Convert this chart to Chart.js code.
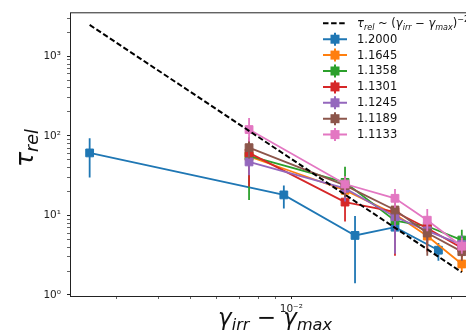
<!DOCTYPE html>
<html>
<head>
<meta charset="utf-8">
<script src="https://cdn.jsdelivr.net/npm/chart.js@4.4.1/dist/chart.umd.min.js"></script>
<style>
    html, body { margin: 0; padding: 0; background: #fff; overflow: hidden; }
    #wrap { width: 466px; height: 335px; overflow: hidden; position: relative; }
    canvas { display: block; }
</style>
</head>
<body>
<div id="wrap"><canvas id="chart" width="488" height="335" style="width:488px;height:335px"></canvas></div>
<script>
/* ------------------------------------------------------------
   DATA
------------------------------------------------------------ */
const gammaLabels = ["1.2000", "1.1645", "1.1358", "1.1301", "1.1245", "1.1189", "1.1133"];
const colors = ["#1f77b4", "#ff7f0e", "#2ca02c", "#d62728", "#9467bd", "#8c564b", "#e377c2"];

// x = gamma_irr - gamma_max
const xBlue = [0.0025, 0.0095, 0.0155, 0.0204, 0.0275];
const xOthers = [0.00748, 0.01447, 0.0204, 0.02547, 0.0323];

// tau_rel values, with lower / upper error bar ends
const tau12000 = [61, 18.1, 5.6, 7.1, 3.65];
const lo12000  = [30, 12.2, 1.4, 5.3, 2.7];
const hi12000  = [93, 23.7, 9.8, 9.2, 4.5];

const tau11645 = [55, 20.7, 10.3, 5.5, 2.45];
const lo11645  = [42, 16, 8.2, 4.3, 1.95];
const hi11645  = [70, 26, 12.8, 7, 3.1];

const tau11358 = [56, 26, 8.6, 7.3, 4.9];
const lo11358  = [15.6, 17, 6.3, 5.5, 3.7];
const hi11358  = [88, 41, 11.5, 9.5, 6.6];

const tau11301 = [61, 14.7, 11.1, 6.9, 3.9];
const lo11301  = [23, 8.4, 3.1, 3.5, 3.0];
const hi11301  = [95, 20, 14.5, 9, 5.1];

const tau11245 = [47, 21.9, 9.6, 6.4, 4.3];
const lo11245  = [32, 15, 3.3, 4.6, 3.2];
const hi11245  = [65, 29, 15, 8.5, 5.6];

const tau11189 = [71, 23.8, 11.7, 6.0, 3.5];
const lo11189  = [52, 17, 8.5, 3.1, 2.7];
const hi11189  = [95, 31, 15, 8.3, 4.5];

const tau11133 = [120, 24.8, 16.4, 8.7, 4.1];
const lo11133  = [85, 19, 12.5, 6.3, 3.3];
const hi11133  = [168, 31, 21.5, 12, 5.2];

// dashed power-law guide (end points)
const fitX = [0.0025, 0.0323];
const fitY = [2480, 1.93];

// axis ticks
const xMajorTicks = [0.001, 0.01];
const yMajorTicks = [1, 10, 100, 1000];
const minorMult = [1, 2, 3, 4, 5, 6, 7, 8, 9];
const X_MIN = 0.002184, X_MAX = 0.0366;
const Y_MIN = 0.97, Y_MAX = 3573;

const SERIES = [
    [xBlue, tau12000, lo12000, hi12000],
    [xOthers, tau11645, lo11645, hi11645],
    [xOthers, tau11358, lo11358, hi11358],
    [xOthers, tau11301, lo11301, hi11301],
    [xOthers, tau11245, lo11245, hi11245],
    [xOthers, tau11189, lo11189, hi11189],
    [xOthers, tau11133, lo11133, hi11133]
];

const FONT = "'DejaVu Sans', 'Liberation Sans', sans-serif";
const INK = "#222";

/* ------------------------------------------------------------
   HELPERS
------------------------------------------------------------ */
function isPow10(v) {
    const l = Math.log10(v);
    return Math.abs(l - Math.round(l)) < 1e-9;
}

function buildTicks(majors, lo, hi) {
    const out = [];
    majors.forEach(d => minorMult.forEach(m => {
        const v = +(d * m).toPrecision(6);
        if (v >= lo && v <= hi) out.push(v);
    }));
    return out.map(v => ({ value: v, major: isPow10(v) }));
}

const SUP = { "0": "⁰", "1": "¹", "2": "²", "3": "³", "-": "⁻" };
function powLabel(v) {
    const e = String(Math.round(Math.log10(v)));
    return "10" + e.split("").map(c => SUP[c]).join("");
}

// draw mathtext-ish pieces: [text, kind] kind: n / i / sub / sup
function drawRich(ctx, parts, x, y, size, align) {
    const small = size * 0.7;
    const fontOf = k => k === "n" ? `${size}px ${FONT}`
        : k === "i" ? `italic ${size}px ${FONT}`
        : k === "sup" ? `${small}px ${FONT}`
        : `italic ${small}px ${FONT}`;
    let w = 0;
    parts.forEach(([t, k]) => { ctx.font = fontOf(k); w += ctx.measureText(t).width; });
    let cx = align === "center" ? x - w / 2 : x;
    ctx.textAlign = "left";
    ctx.textBaseline = "alphabetic";
    parts.forEach(([t, k]) => {
        ctx.font = fontOf(k);
        const dy = k === "sub" ? size * 0.2 : k === "sup" ? -size * 0.42 : 0;
        ctx.fillText(t, cx, y + dy);
        cx += ctx.measureText(t).width;
    });
}

/* ------------------------------------------------------------
   PLUGINS
------------------------------------------------------------ */
const errorBars = {
    id: "errorBars",
    beforeDatasetDraw(chart, args) {
        const ds = chart.data.datasets[args.index];
        if (!ds.errLo) return;
        const { ctx, chartArea: a, scales: { x, y } } = chart;
        ctx.save();
        ctx.beginPath();
        ctx.rect(a.left, a.top, a.width, a.height);
        ctx.clip();
        ctx.strokeStyle = ds.borderColor;
        ctx.lineWidth = 1.8;
        ds.data.forEach((p, i) => {
            const px = x.getPixelForValue(p.x);
            ctx.beginPath();
            ctx.moveTo(px, y.getPixelForValue(ds.errLo[i]));
            ctx.lineTo(px, y.getPixelForValue(ds.errHi[i]));
            ctx.stroke();
        });
        ctx.restore();
    }
};

const decorations = {
    id: "decorations",
    afterDraw(chart) {
        const { ctx, chartArea: a } = chart;
        ctx.save();

        // frame
        ctx.strokeStyle = INK;
        ctx.lineWidth = 1;
        ctx.strokeRect(a.left + 0.5, a.top + 0.5, a.width, a.height);

        // axis titles
        ctx.fillStyle = "#111";
        drawRich(ctx, [["γ", "i"], ["irr", "sub"], [" − ", "n"], ["γ", "i"], ["max", "sub"]],
            (a.left + a.right) / 2, 325, 23, "center");

        ctx.save();
        ctx.translate(33, 148);
        ctx.rotate(-Math.PI / 2);
        drawRich(ctx, [["τ", "i"], ["rel", "sub"]], 0, 0, 25, "center");
        ctx.restore();

        // legend
        const hx0 = 323, hx1 = 347, tx = 357, row0 = 23.3, step = 15.9;
        ctx.lineWidth = 2;
        ctx.strokeStyle = "#000";
        ctx.setLineDash([5.5, 2.6]);
        ctx.beginPath();
        ctx.moveTo(hx0, row0);
        ctx.lineTo(hx1, row0);
        ctx.stroke();
        ctx.setLineDash([]);
        ctx.fillStyle = "#111";
        drawRich(ctx, [["τ", "i"], ["rel", "sub"], [" ~ (", "n"], ["γ", "i"], ["irr", "sub"],
            [" − ", "n"], ["γ", "i"], ["max", "sub"], [")", "n"], ["−2.8", "sup"]],
            tx, row0 + 4, 11.5, "left");

        gammaLabels.forEach((lab, i) => {
            const yy = row0 + step * (i + 1);
            const mx = (hx0 + hx1) / 2;
            ctx.strokeStyle = colors[i];
            ctx.fillStyle = colors[i];
            ctx.lineWidth = 2;
            ctx.beginPath();
            ctx.moveTo(hx0, yy); ctx.lineTo(hx1, yy);
            ctx.moveTo(mx, yy - 6.5); ctx.lineTo(mx, yy + 6.5);
            ctx.stroke();
            ctx.fillRect(mx - 4.5, yy - 4.5, 9, 9);
            ctx.fillStyle = "#111";
            ctx.font = `11.5px ${FONT}`;
            ctx.textAlign = "left";
            ctx.textBaseline = "middle";
            ctx.fillText(lab, tx, yy + 0.5);
        });
        ctx.restore();
    }
};

/* ------------------------------------------------------------
   DATASETS
------------------------------------------------------------ */
const datasets = [{
    label: "fit",
    data: fitX.map((x, i) => ({ x, y: fitY[i] })),
    borderColor: "#000",
    borderWidth: 2,
    borderDash: [5.5, 2.6],
    pointRadius: 0,
    showLine: true,
    order: 0
}];

SERIES.forEach(([xs, ys, lo, hi], i) => {
    datasets.push({
        label: gammaLabels[i],
        data: xs.map((x, j) => ({ x, y: ys[j] })),
        errLo: lo,
        errHi: hi,
        borderColor: colors[i],
        backgroundColor: colors[i],
        borderWidth: 1.8,
        pointStyle: "rect",
        pointRadius: 5.5,
        pointBorderWidth: 1,
        pointBorderColor: colors[i],
        showLine: true,
        order: SERIES.length - i
    });
});

/* ------------------------------------------------------------
   CHART
------------------------------------------------------------ */
const tickGrid = {
    drawOnChartArea: false,
    drawTicks: true,
    tickLength: 3,
    tickColor: INK,
    tickWidth: c => (c.tick && c.tick.major ? 1 : 0.7)
};

new Chart(document.getElementById("chart"), {
    type: "scatter",
    data: { datasets },
    options: {
        responsive: false,
        animation: false,
        devicePixelRatio: 1,
        layout: { padding: { top: 6, right: 8, left: 0, bottom: 0 } },
        plugins: { legend: { display: false }, tooltip: { enabled: false } },
        scales: {
            x: {
                type: "logarithmic",
                min: X_MIN,
                max: X_MAX,
                border: { display: false },
                grid: tickGrid,
                afterBuildTicks: s => { s.ticks = buildTicks(xMajorTicks, X_MIN, X_MAX); },
                afterFit: s => { s.height = 39; },
                ticks: {
                    autoSkip: false,
                    maxRotation: 0,
                    padding: 4,
                    color: INK,
                    font: { family: FONT, size: 10.5 },
                    callback: v => (isPow10(v) ? powLabel(v) : "")
                }
            },
            y: {
                type: "logarithmic",
                min: Y_MIN,
                max: Y_MAX,
                border: { display: false },
                grid: tickGrid,
                afterBuildTicks: s => { s.ticks = buildTicks(yMajorTicks, Y_MIN, Y_MAX); },
                afterFit: s => { s.width = 70; },
                ticks: {
                    autoSkip: false,
                    padding: 6,
                    color: INK,
                    font: { family: FONT, size: 10.5 },
                    callback: v => (isPow10(v) ? powLabel(v) : "")
                }
            }
        }
    },
    plugins: [errorBars, decorations]
});
</script>
</body>
</html>
